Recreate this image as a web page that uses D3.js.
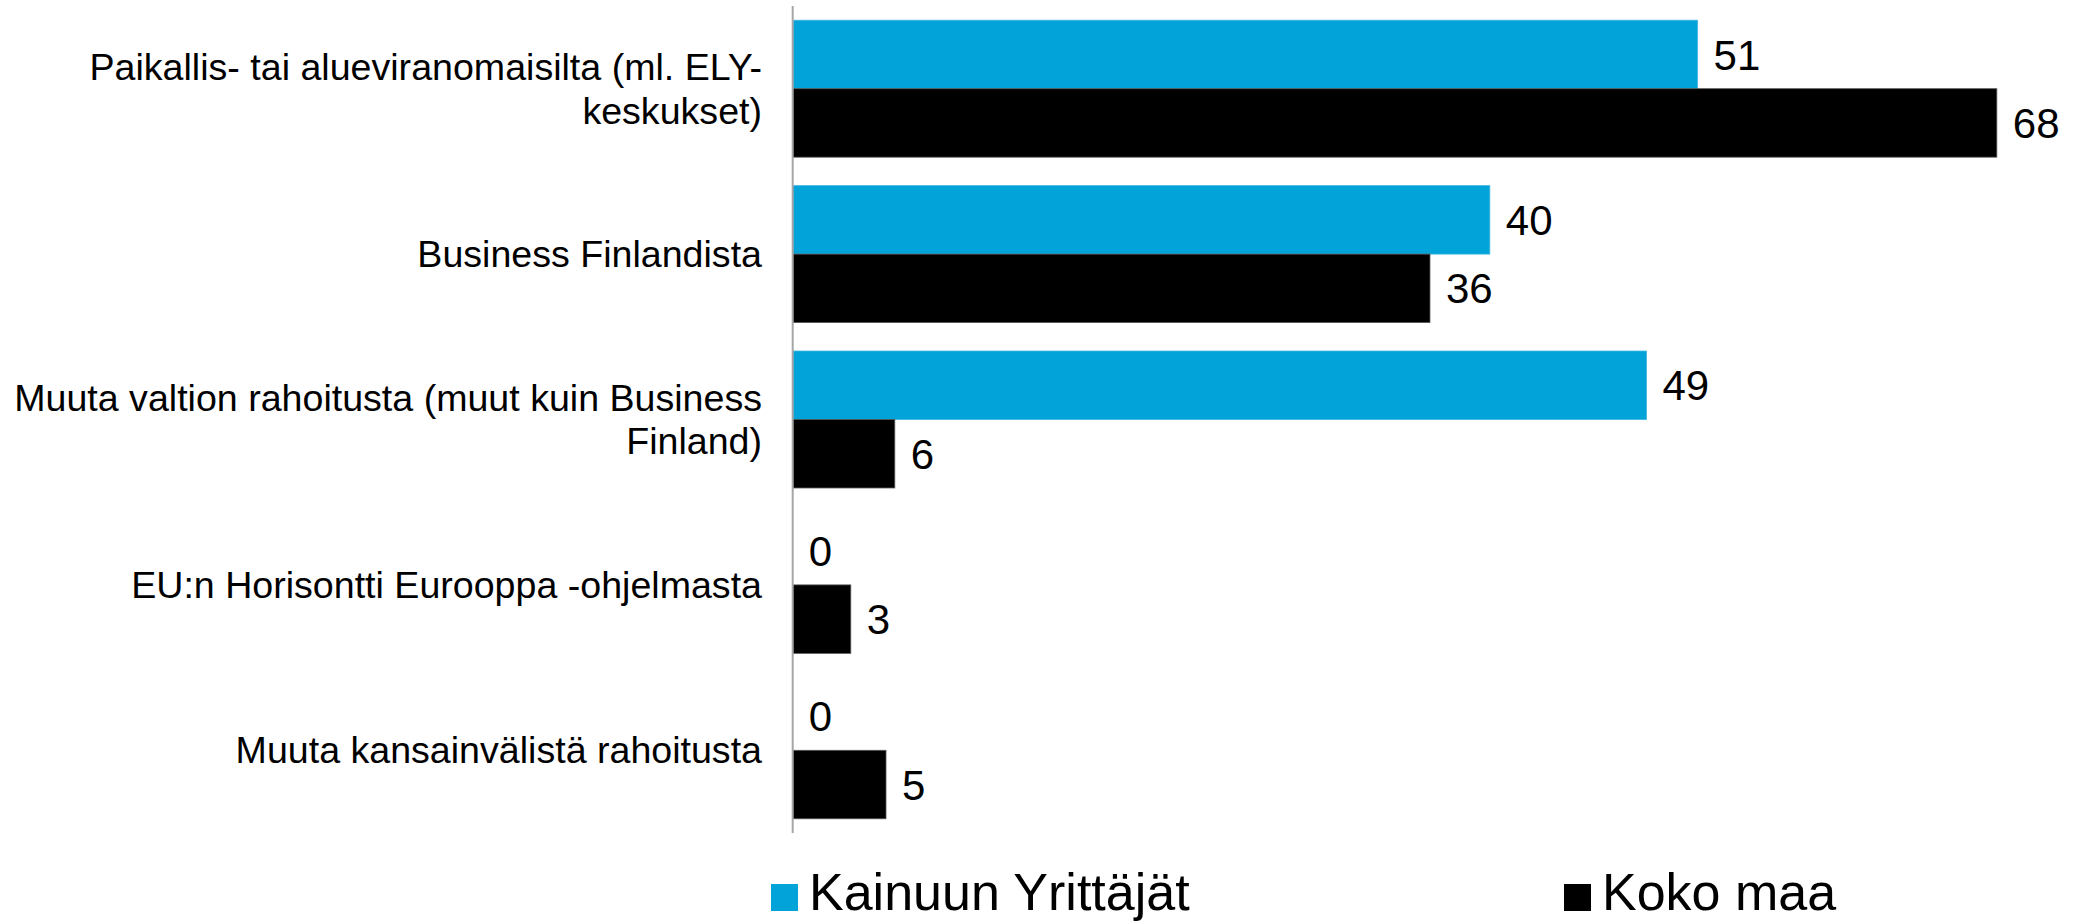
<!DOCTYPE html>
<html>
<head>
<meta charset="utf-8">
<script src="https://cdn.jsdelivr.net/npm/d3@7"></script>
<style>
  html, body { margin: 0; padding: 0; background: #fff; }
  svg { display: block; font-family: "Liberation Sans", Arial, sans-serif; }
</style>
</head>
<body>
<div id="chart"></div>
<script>
// Categories (line breaks as in the original labels)
const categories = [
    "Paikallis- tai alueviranomaisilta (ml. ELY-\nkeskukset)",
    "Business Finlandista",
    "Muuta valtion rahoitusta (muut kuin Business\nFinland)",
    "EU:n Horisontti Eurooppa -ohjelmasta",
    "Muuta kansainvälistä rahoitusta"
];
const seriesNames = ["Kainuun Yrittäjät", "Koko maa"];
// values; labels show them rounded
const kainuu = [51.4, 39.6, 48.5, 0, 0];
const kokoMaa = [68.4, 36.2, 5.8, 3.3, 5.3];
const colors = ["#02a3d9", "#000000"];

const width = 2073, height = 923;
const margin = { top: 6, right: 48, bottom: 90, left: 792.7 };

const svg = d3.select("#chart").append("svg")
    .attr("width", width)
    .attr("height", height);

// Scales
const x = d3.scaleLinear().domain([0, 70]).range([margin.left, width - margin.right]);
const y = d3.scaleBand().domain(categories).range([margin.top, height - margin.bottom])
    .paddingInner(0.172).paddingOuter(0.086);
const ySub = d3.scaleBand().domain(seriesNames).range([0, y.bandwidth()]);
const fmt = d3.format(".0f");

const rows = categories.map((c, i) => ({ cat: c, values: [kainuu[i], kokoMaa[i]] }));

// Bars
const group = svg.selectAll(".cat")
    .data(rows)
    .enter()
    .append("g")
    .attr("transform", d => `translate(0,${y(d.cat)})`);

group.selectAll("rect")
    .data(d => d.values.map((v, j) => ({ v, s: seriesNames[j], j })))
    .enter()
    .append("rect")
    .attr("x", x(0))
    .attr("y", d => ySub(d.s))
    .attr("width", d => x(d.v) - x(0))
    .attr("height", ySub.bandwidth())
    .attr("fill", d => colors[d.j])
    .attr("stroke", d => d.v > 0 ? (d.j === 0 ? "#3fb5e0" : "#555") : "none")
    .attr("stroke-width", 0.8);

// Value labels
group.selectAll(".val")
    .data(d => d.values.map((v, j) => ({ v, s: seriesNames[j] })))
    .enter()
    .append("text")
    .attr("x", d => x(d.v) + 16)
    .attr("y", d => ySub(d.s) + ySub.bandwidth() / 2)
    .attr("dy", "0.36em")
    .attr("font-size", 42)
    .attr("fill", "#000")
    .text(d => fmt(d.v));

// Category axis line
svg.append("line")
    .attr("x1", x(0)).attr("x2", x(0))
    .attr("y1", margin.top).attr("y2", height - margin.bottom)
    .attr("stroke", "#a6a6a6")
    .attr("stroke-width", 2);

// Category labels, right aligned next to the axis
const lineH = 43.6;
svg.selectAll(".catlabel")
    .data(categories)
    .enter()
    .append("text")
    .attr("class", "catlabel")
    .attr("text-anchor", "end")
    .attr("font-size", 37.6)
    .attr("fill", "#000")
    .each(function (d) {
        const lines = d.split("\n");
        const cy = y(d) + y.bandwidth() / 2;
        const t = d3.select(this);
        lines.forEach((ln, k) => {
            t.append("tspan")
                .attr("x", 762)
                .attr("y", cy + (k - (lines.length - 1) / 2) * lineH)
                .attr("dy", "0.35em")
                .text(ln);
        });
    });

// Legend
const legendX = [771, 1564];
const legend = svg.selectAll(".legend")
    .data(seriesNames)
    .enter()
    .append("g")
    .attr("transform", (d, i) => `translate(${legendX[i]},884)`);

legend.append("rect")
    .attr("width", 27).attr("height", 27)
    .attr("fill", (d, i) => colors[i]);

legend.append("text")
    .attr("x", 38)
    .attr("y", 26)
    .attr("font-size", 52)
    .attr("fill", "#000")
    .text(d => d);
</script>
</body>
</html>
